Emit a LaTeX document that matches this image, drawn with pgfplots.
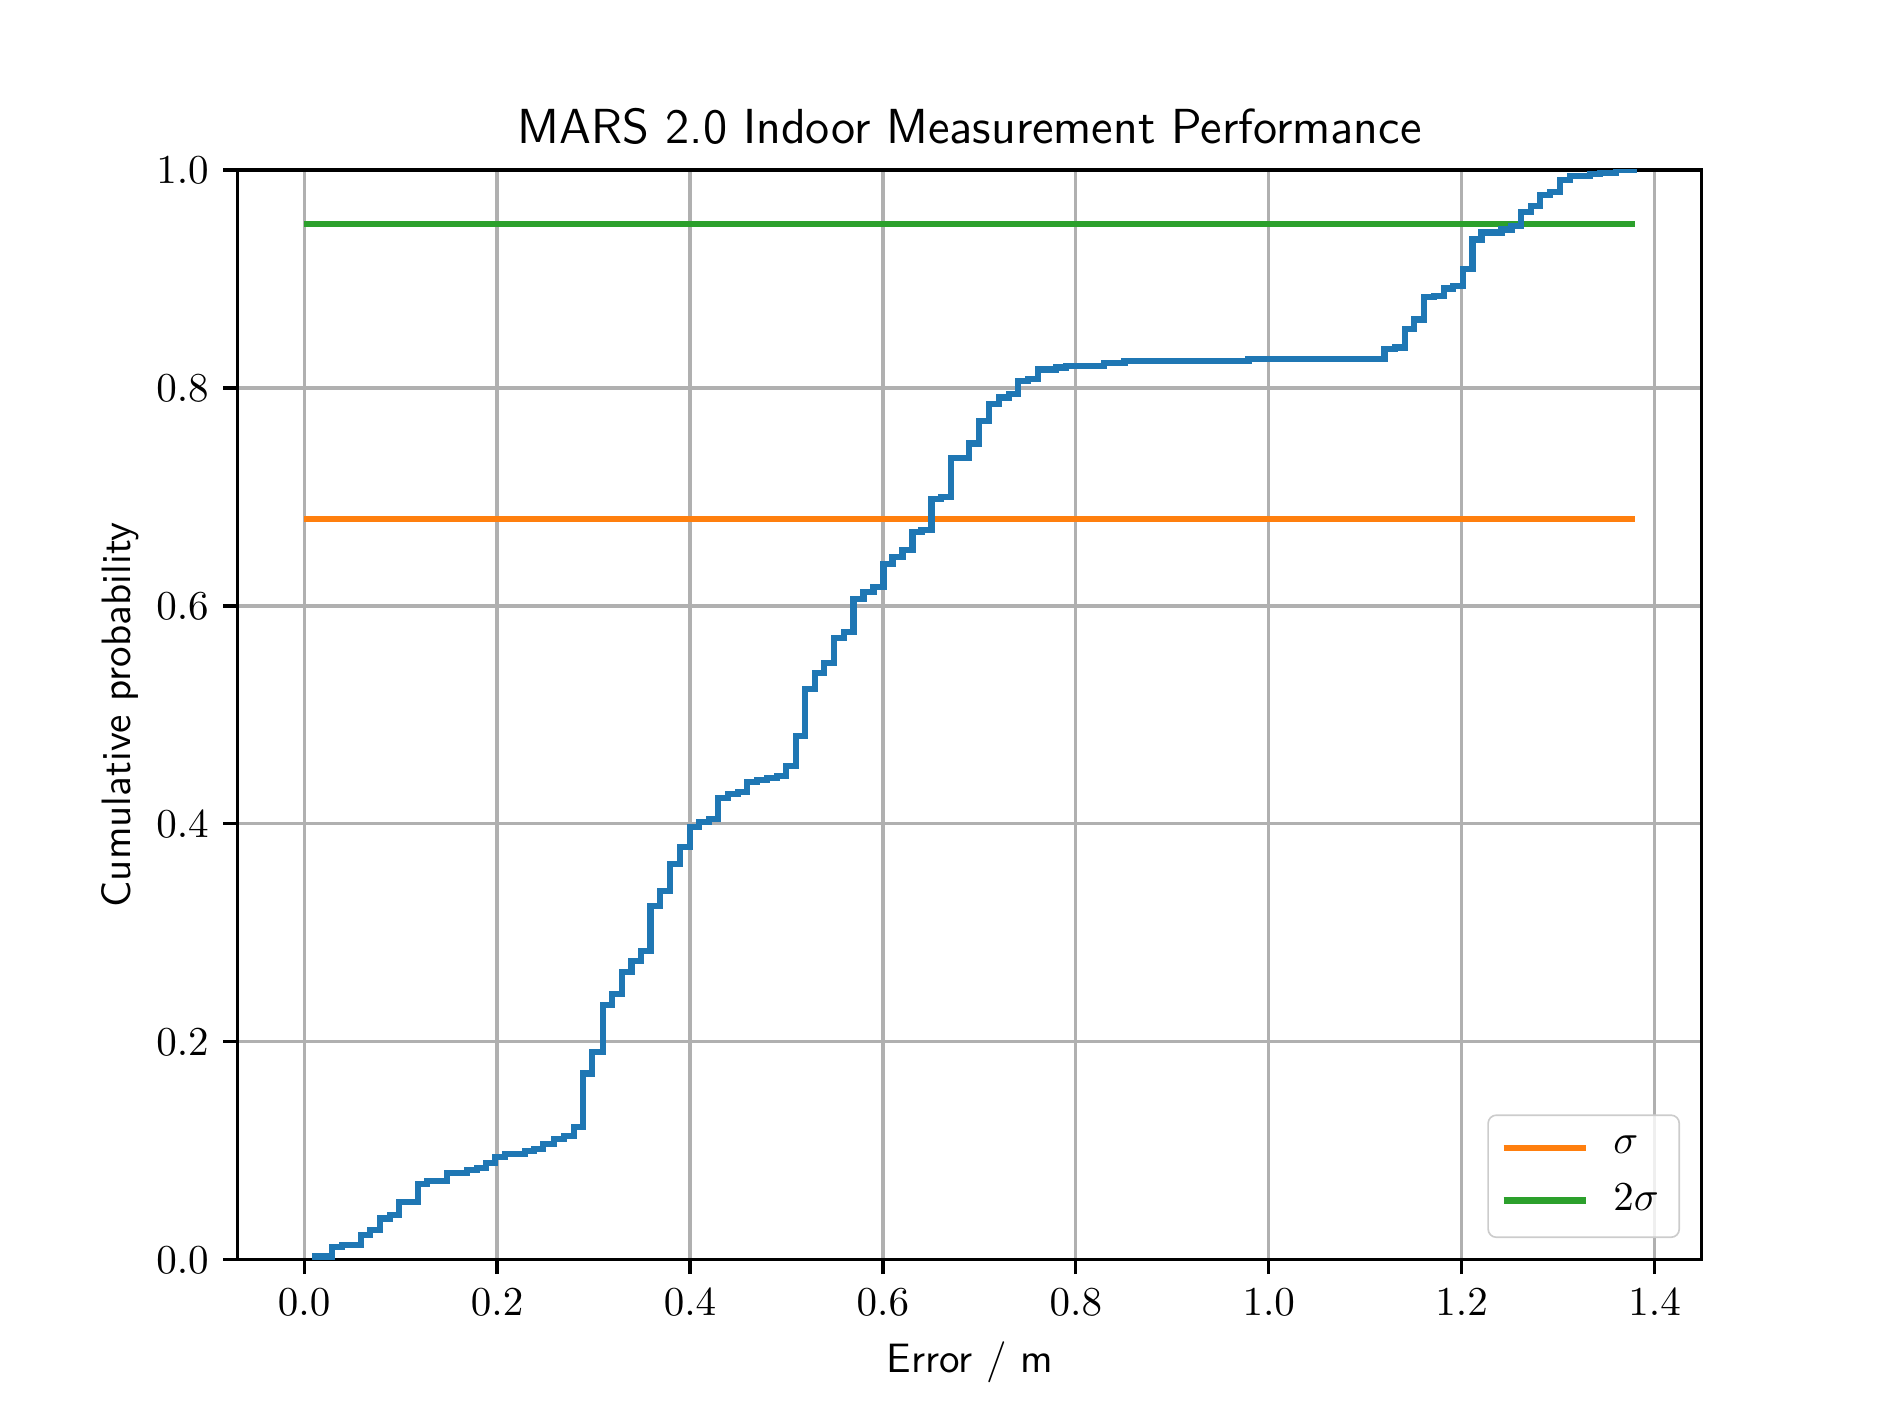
\documentclass[border=0pt]{standalone}
\usepackage{pgfplots}
\pgfplotsset{compat=1.18}

\definecolor{c0}{HTML}{1F77B4}
\definecolor{c1}{HTML}{FF7F0E}
\definecolor{c2}{HTML}{2CA02C}
\definecolor{gridgray}{HTML}{B0B0B0}

\begin{document}
\begin{tikzpicture}
\begin{axis}[
    name=ax,
    scale only axis,
    width=356.8pt, height=265.6pt,
    xmin=-0.069, xmax=1.449,
    ymin=0, ymax=1,
    xtick={0,0.2,...,1.4},
    ytick={0,0.2,...,1.0},
    /pgf/number format/.cd, fixed, fixed zerofill, precision=1, /pgfplots/.cd,
    tick align=outside,
    xtick pos=left, ytick pos=left,
    major tick length=3.5pt,
    every tick/.style={black, line width=0.8pt},
    axis line style={line width=0.8pt},
    grid=major,
    major grid style={gridgray, line width=0.8pt},
    title={\sffamily MARS 2.0 Indoor Measurement Performance},
    title style={font=\large, at={(axis description cs:0.5,1)}, anchor=base, yshift=0.4pt},
    xlabel={\sffamily Error / m},
    xlabel style={at={([yshift=-27.5pt]axis description cs:0.5,0)}, anchor=base},
    ylabel={\sffamily Cumulative probability},
    ylabel style={at={([xshift=-26pt]axis description cs:0,0.5)}, rotate=0, anchor=base},
    legend cell align=left,
    legend image code/.code={\draw[#1] (0pt,0pt) -- (20pt,0pt);},
    legend style={at={(axis description cs:1,0)}, anchor=south east,
        xshift=-5.3pt, yshift=5.3pt, draw=black!20, rounded corners=2pt,
        fill=white, fill opacity=0.8, text opacity=1, row sep=2pt,
        inner xsep=3pt, inner ysep=3pt,
        /tikz/every odd column/.append style={column sep=4pt}},
]
\addplot[c1, line width=1.5pt] coordinates {(0,0.68) (1.38,0.68)};
\addlegendentry{$\sigma$}
\addplot[c2, line width=1.5pt] coordinates {(0,0.95) (1.38,0.95)};
\addlegendentry{$2\sigma$}
\addplot[c0, line width=1.5pt, const plot, forget plot] coordinates {
(0.008,0.003) (0.029,0.012) (0.039,0.014) (0.059,0.023) (0.0685,0.0275)
(0.079,0.038) (0.089,0.041) (0.0986,0.053) (0.118,0.0697) (0.127,0.072)
(0.148,0.0795) (0.169,0.0826) (0.179,0.0841) (0.1886,0.0887) (0.198,0.094)
(0.208,0.097) (0.2287,0.100) (0.238,0.102) (0.248,0.1064) (0.2587,0.1107)
(0.269,0.1137) (0.2795,0.1217) (0.2889,0.171) (0.2986,0.191) (0.3096,0.234)
(0.3193,0.244) (0.3297,0.264) (0.3394,0.2745) (0.3494,0.2837) (0.359,0.3247)
(0.3688,0.3387) (0.379,0.3632) (0.3895,0.3785) (0.3999,0.3974) (0.409,0.402)
(0.4196,0.4042) (0.4294,0.4235) (0.4394,0.4274) (0.4497,0.4295) (0.4595,0.4387)
(0.4691,0.4402) (0.4795,0.4418) (0.4899,0.4439) (0.4992,0.453) (0.5096,0.4806)
(0.5193,0.5234) (0.5293,0.5387) (0.539,0.5479) (0.5494,0.5702) (0.5597,0.5763)
(0.5695,0.6063) (0.5799,0.6124) (0.5902,0.6176) (0.6006,0.6384) (0.61,0.6445)
(0.6203,0.6512) (0.6307,0.668) (0.640,0.6695) (0.6504,0.698) (0.660,0.6995)
(0.6705,0.7353) (0.6895,0.749) (0.700,0.7698) (0.710,0.785) (0.7206,0.7912)
(0.731,0.7943) (0.7403,0.8062) (0.7507,0.808) (0.7604,0.8169) (0.7794,0.8187)
(0.7898,0.8202) (0.8296,0.823) (0.8504,0.8248) (0.979,0.8264) (1.120,0.8353)
(1.1306,0.837) (1.141,0.8539) (1.1507,0.8628) (1.161,0.883) (1.1715,0.8844)
(1.1818,0.8912) (1.1912,0.8936) (1.2016,0.9089) (1.2112,0.9361) (1.2206,0.9425)
(1.2413,0.9453) (1.2517,0.9484) (1.2614,0.9615) (1.2717,0.9667) (1.281,0.9768)
(1.2914,0.9798) (1.3018,0.9905) (1.3122,0.9942) (1.333,0.996) (1.3435,0.9972)
(1.360,1.0) (1.382,1.0)
};
\end{axis}
\path (ax.south west) ++(-57.9pt,-38pt) coordinate (bbA);
\path (ax.north east) ++(46.1pt,41.4pt) coordinate (bbB);
\path (bbA) rectangle (bbB);
\end{tikzpicture}
\end{document}
